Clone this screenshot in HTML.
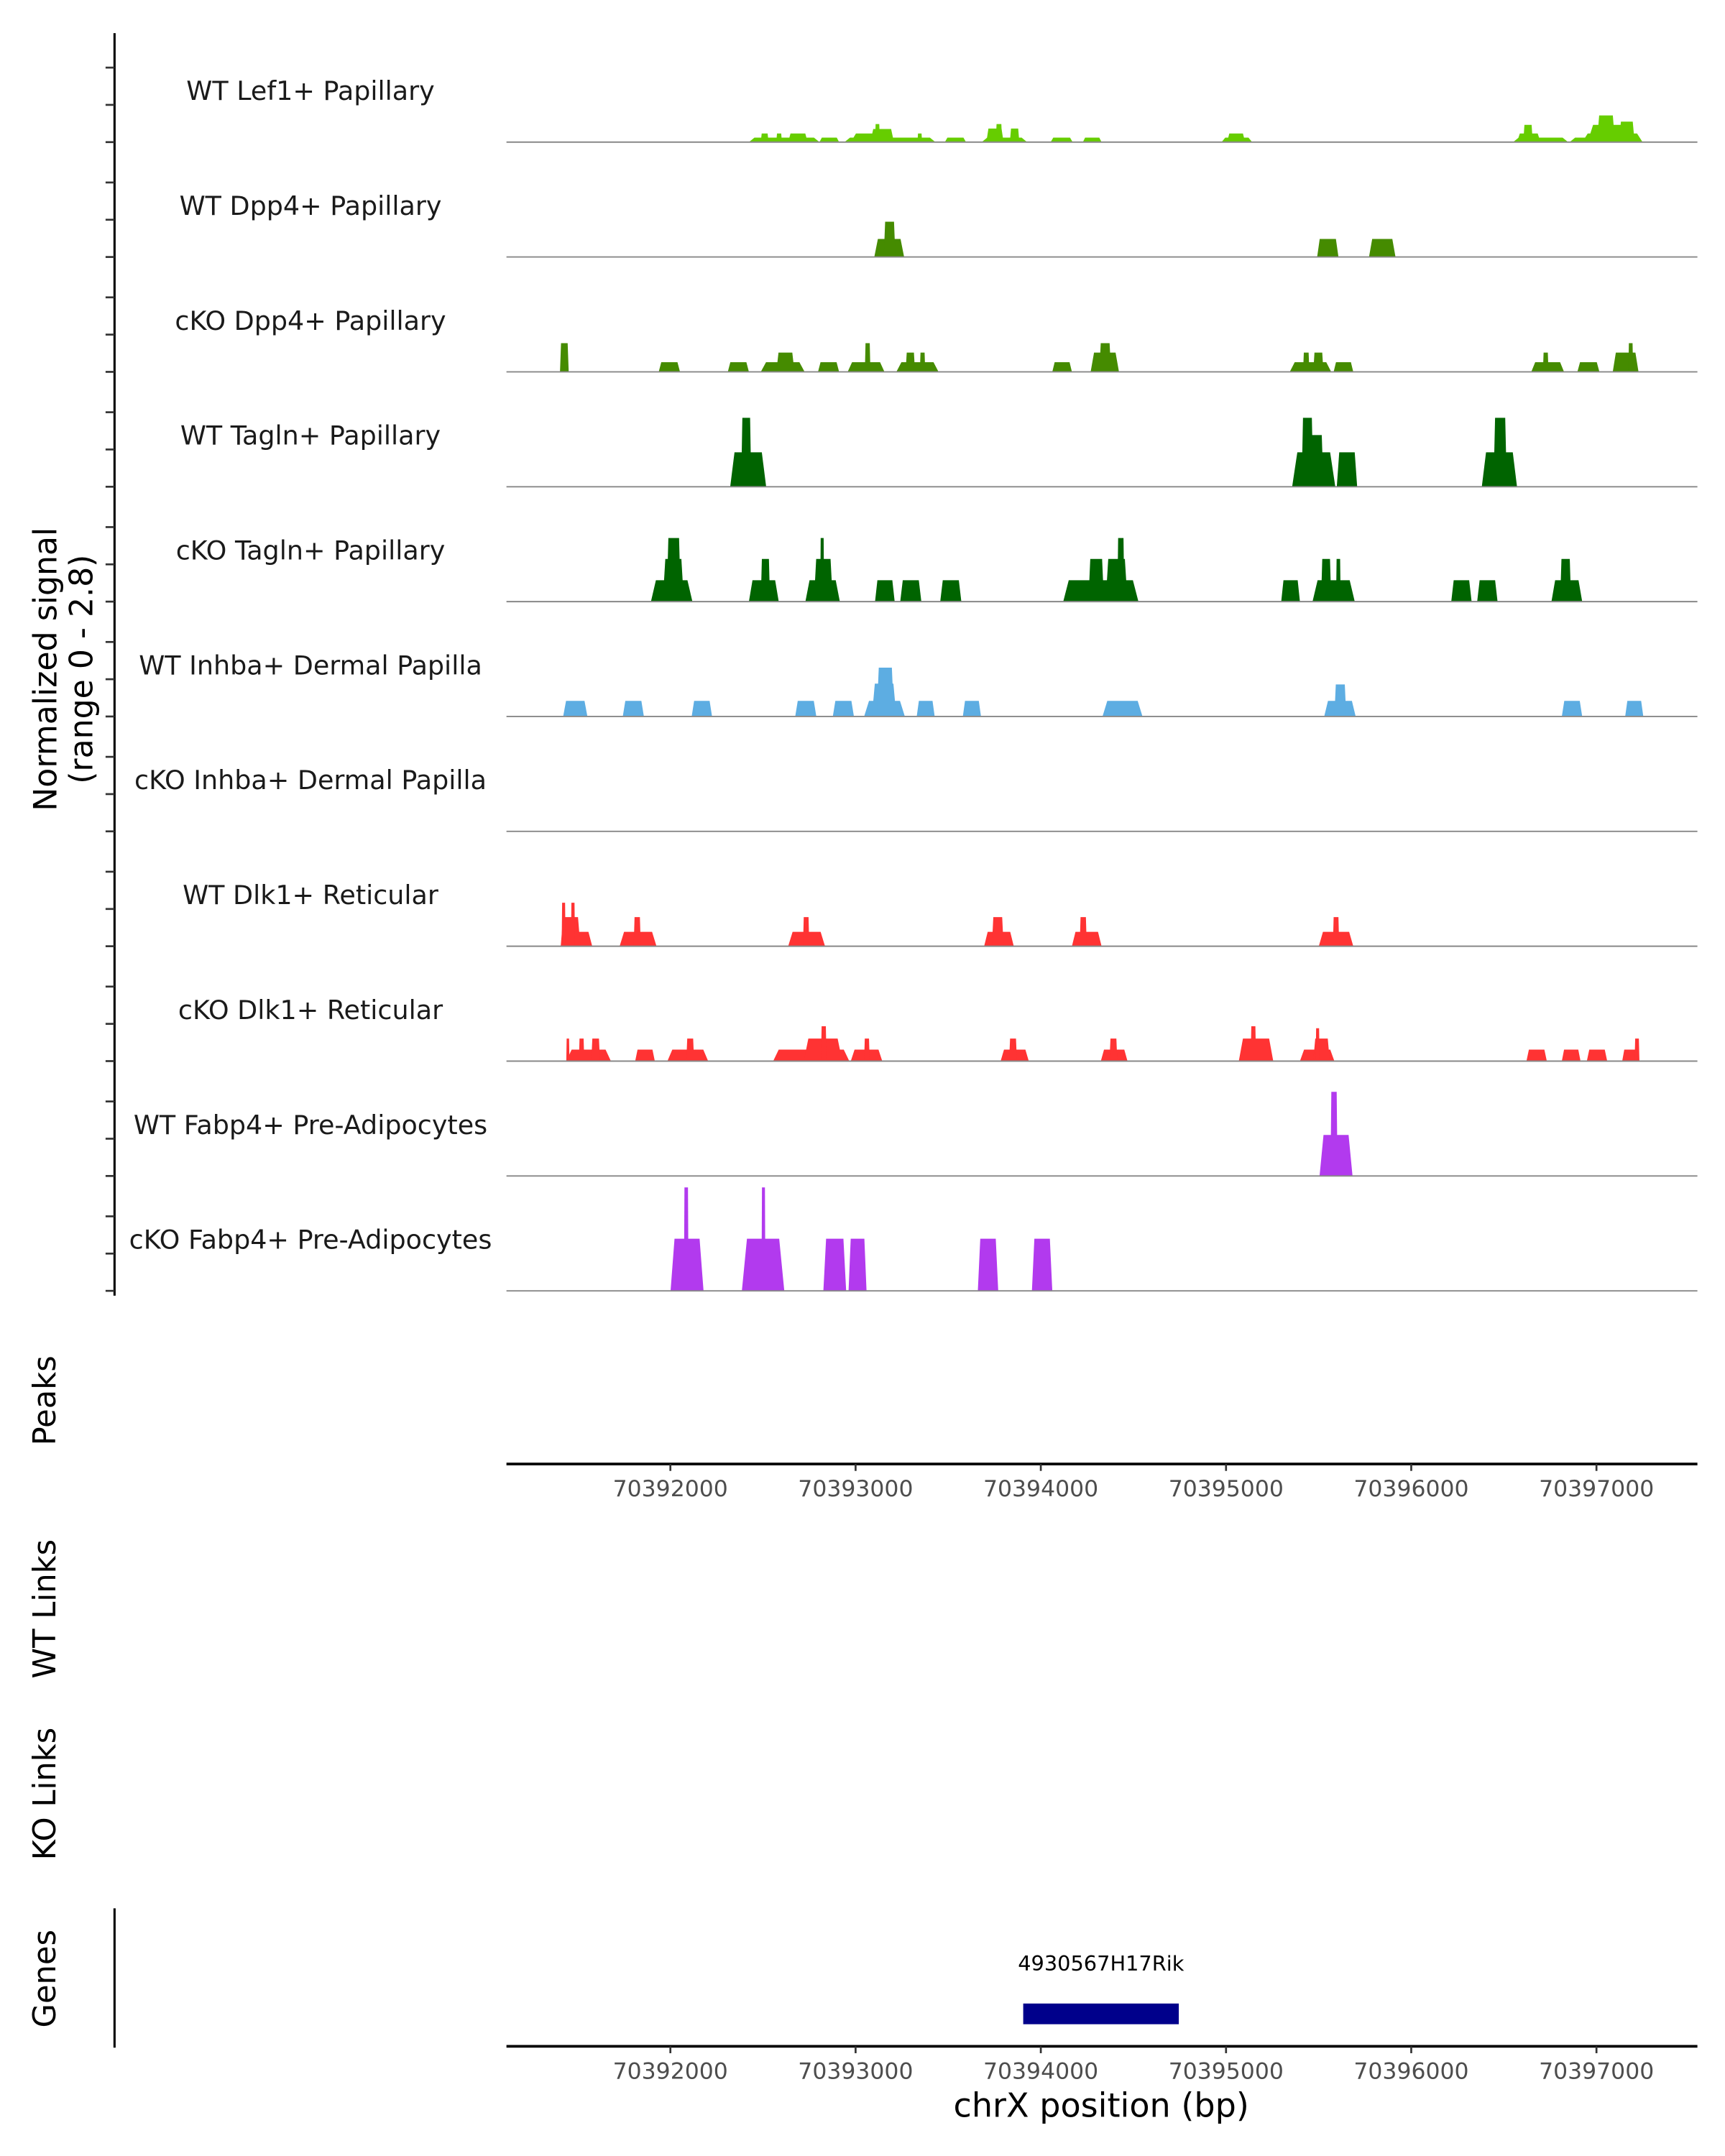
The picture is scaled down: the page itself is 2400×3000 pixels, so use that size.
<!DOCTYPE html>
<html><head><meta charset="utf-8"><style>
html,body{margin:0;padding:0;background:#fff;}
svg{display:block;font-family:"DejaVu Sans","Liberation Sans",sans-serif;}
</style></head><body>
<svg id="chart" xmlns="http://www.w3.org/2000/svg" width="2400" height="3000" viewBox="0 0 1250 1562.5">
<rect x="0" y="0" width="1250" height="1562.5" fill="#fff"/>
<g id="tracks"></g>
<line x1="83" y1="24" x2="83" y2="939" stroke="#000" stroke-width="1.6"/>
<g id="yticks"></g>
<text transform="translate(41,485) rotate(-90)" text-anchor="middle" font-size="23" fill="#000"><tspan x="0" dy="0">Normalized signal</tspan><tspan x="0" dy="26">(range 0 - 2.8)</tspan></text>
<text transform="translate(40,1015) rotate(-90)" text-anchor="middle" font-size="22.5" fill="#000">Peaks</text>
<text transform="translate(40,1166) rotate(-90)" text-anchor="middle" font-size="22.5" fill="#000">WT Links</text>
<text transform="translate(40,1300) rotate(-90)" text-anchor="middle" font-size="22.5" fill="#000">KO Links</text>
<text transform="translate(40,1434) rotate(-90)" text-anchor="middle" font-size="22.5" fill="#000">Genes</text>
<line x1="83" y1="1383" x2="83" y2="1484" stroke="#000" stroke-width="1.6"/>
<line x1="367" y1="1061" x2="1230" y2="1061" stroke="#000" stroke-width="2"/>
<line x1="367" y1="1483" x2="1230" y2="1483" stroke="#000" stroke-width="2"/>
<g id="xaxes"></g>
<g id="genes"></g>
<text x="798" y="1534" text-anchor="middle" font-size="24" fill="#000">chrX position (bp)</text>
</svg>
<script>
const NS="http://www.w3.org/2000/svg";
const trackNames=["WT Lef1+ Papillary","WT Dpp4+ Papillary","cKO Dpp4+ Papillary","WT Tagln+ Papillary","cKO Tagln+ Papillary","WT Inhba+ Dermal Papilla","cKO Inhba+ Dermal Papilla","WT Dlk1+ Reticular","cKO Dlk1+ Reticular","WT Fabp4+ Pre-Adipocytes","cKO Fabp4+ Pre-Adipocytes"];
const trackColors=["#66cd00","#458b00","#458b00","#006400","#006400","#5dade2","#5dade2","#ff3333","#ff3333","#b23aee","#b23aee"];
const xTicks=[70392000,70393000,70394000,70395000,70396000,70397000];
const xDomain=[70391112,70397545];
const yMax=2.8;
const t1=[[70392424,70392805,0.11],[70392488,70392530,0.21],[70392572,70392602,0.21],[70392636,70392741,0.21],[70392805,70392911,0.11],[70392940,70393431,0.11],[70392974,70393207,0.21],[70393080,70393207,0.32],[70393105,70393131,0.44],[70393334,70393359,0.21],[70393482,70393596,0.11],[70393681,70393926,0.11],[70393706,70393799,0.33],[70393757,70393791,0.44],[70393833,70393884,0.33],[70394053,70394172,0.11],[70394227,70394328,0.11],[70394976,70395141,0.11],[70395006,70395103,0.21],[70396550,70396847,0.11],[70396571,70396698,0.21],[70396605,70396656,0.42],[70396855,70397249,0.11],[70396923,70397249,0.21],[70396952,70397206,0.42],[70397003,70397100,0.65],[70397122,70397206,0.5]];
const t2=[[70393101,70393262,0.44],[70393152,70393215,0.86],[70395492,70395607,0.44],[70395772,70395915,0.44]];
const t3=[[70391404,70391451,0.7],[70391937,70392052,0.235],[70392310,70392424,0.235],[70392488,70392725,0.235],[70392572,70392670,0.47],[70392797,70392911,0.235],[70392957,70393156,0.235],[70393050,70393080,0.7],[70393220,70393448,0.235],[70393270,70393321,0.47],[70393347,70393376,0.47],[70394062,70394168,0.235],[70394269,70394422,0.47],[70394316,70394379,0.7],[70395344,70395568,0.235],[70395416,70395450,0.47],[70395471,70395526,0.47],[70395581,70395687,0.235],[70396648,70396825,0.235],[70396711,70396741,0.47],[70396897,70397016,0.235],[70397088,70397227,0.47],[70397172,70397198,0.7]];
const t4=[[70392323,70392517,0.84],[70392382,70392437,1.68],[70395357,70395590,0.84],[70395408,70395471,1.68],[70395450,70395526,1.26],[70395598,70395708,0.84],[70396381,70396571,0.84],[70396444,70396516,1.68]];
const t5=[[70391895,70392119,0.52],[70391959,70392073,1.04],[70391980,70392056,1.55],[70392424,70392585,0.52],[70392488,70392538,1.04],[70392729,70392915,0.52],[70392775,70392877,1.04],[70392809,70392830,1.55],[70393105,70393211,0.52],[70393241,70393355,0.52],[70393457,70393571,0.52],[70394121,70394527,0.52],[70394257,70394341,1.04],[70394350,70394468,1.04],[70394413,70394451,1.55],[70395298,70395399,0.52],[70395467,70395695,0.52],[70395513,70395568,1.04],[70395594,70395619,1.04],[70396216,70396326,0.52],[70396356,70396466,0.52],[70396757,70396923,0.52],[70396804,70396863,1.04]];
const t6=[[70391421,70391552,0.38],[70391743,70391857,0.38],[70392115,70392225,0.38],[70392674,70392788,0.38],[70392877,70392991,0.38],[70393046,70393266,0.38],[70393088,70393220,0.8],[70393114,70393207,1.19],[70393330,70393427,0.38],[70393579,70393677,0.38],[70394333,70394549,0.38],[70395530,70395700,0.38],[70395585,70395649,0.78],[70396813,70396923,0.38],[70397155,70397253,0.38]];
const t7=[];
const t8=[[70391408,70391578,0.35],[70391408,70391514,0.71],[70391413,70391434,1.06],[70391463,70391485,1.06],[70391726,70391925,0.35],[70391802,70391840,0.71],[70392636,70392835,0.35],[70392716,70392750,0.71],[70393694,70393854,0.35],[70393736,70393799,0.71],[70394168,70394328,0.35],[70394210,70394248,0.71],[70395501,70395687,0.35],[70395577,70395611,0.71]];
const t9=[[70391438,70391679,0.28],[70391438,70391455,0.55],[70391506,70391535,0.55],[70391573,70391620,0.55],[70391810,70391916,0.28],[70391984,70392204,0.28],[70392086,70392128,0.55],[70392555,70392966,0.28],[70392720,70392928,0.55],[70392813,70392843,0.85],[70392974,70393144,0.28],[70393046,70393076,0.55],[70393783,70393935,0.28],[70393829,70393871,0.55],[70394324,70394468,0.28],[70394371,70394413,0.55],[70395069,70395255,0.55],[70395133,70395162,0.85],[70395399,70395585,0.28],[70395471,70395560,0.55],[70395484,70395505,0.8],[70396622,70396732,0.28],[70396813,70396914,0.28],[70396948,70397058,0.28],[70397139,70397232,0.28],[70397206,70397232,0.55]];
const t10=[[70395505,70395683,1.0],[70395564,70395602,2.05]];
const t11=[[70392001,70392179,1.27],[70392073,70392098,2.52],[70392386,70392615,1.27],[70392492,70392513,2.52],[70392826,70392949,1.27],[70392962,70393059,1.27],[70393660,70393770,1.27],[70393952,70394062,1.27]];
const trackData=[t1,t2,t3,t4,t5,t6,t7,t8,t9,t10,t11];
const geneName="4930567H17Rik";
const geneStart=70393905;
const geneEnd=70394745;

const X0=367,X1=1230,B0=103,TH=83.25;
function xs(bp){return 366.6+(bp-xDomain[0])/(xDomain[1]-xDomain[0])*(X1-366.6);}
function ys(v,i){return B0+i*TH-v/yMax*TH;}
function mk(tag,attrs,parent){const e=document.createElementNS(NS,tag);for(const k in attrs)e.setAttribute(k,attrs[k]);parent.appendChild(e);return e;}
const gT=document.getElementById('tracks');
trackNames.forEach((nm,i)=>{
  const g=mk('g',{},gT);
  
  
  const base=B0+i*TH;
  trackData[i].forEach(p=>{
    const a=xs(p[0]),b=xs(p[1]),w=b-a,s=Math.min(w*0.12,4),top=ys(p[2],i);
    const poly=mk('polygon',{points:`${a},${base} ${a+s},${top} ${b-s},${top} ${b},${base}`,fill:trackColors[i]},g);
    
    
  });
  const ln=mk('line',{x1:X0,x2:X1,y1:base,y2:base,stroke:'#888',"stroke-width":1},g);
  
  
  const tx=mk('text',{x:225,y:base-30.5,"text-anchor":"middle","font-size":"19",fill:"#1a1a1a"},g);
  tx.textContent=nm;
  
  
});
const gY=document.getElementById('yticks');
for(let i=0;i<11;i++){
  for(let k=0;k<3;k++){
    const y=B0+i*TH-k*27;
    const t=mk('line',{x1:76.5,x2:83,y1:y,y2:y,stroke:'#333',"stroke-width":1.4},gY);
    
    
  }
}
const gX=document.getElementById('xaxes');
[1061,1483].forEach(ay=>{
  xTicks.forEach(v=>{
    const x=xs(v);
    const t=mk('line',{x1:x,x2:x,y1:ay,y2:ay+5,stroke:'#333',"stroke-width":1.4},gX);
    
    
    const l=mk('text',{x:x,y:ay+23.5,"text-anchor":"middle","font-size":"16.4",fill:"#4d4d4d"},gX);
    l.textContent=v;
    
    
  });
});
const gG=document.getElementById('genes');
const gx1=xs(geneStart),gx2=xs(geneEnd);
const gb=mk('rect',{x:gx1,y:1452,width:gx2-gx1,height:15,fill:'#00008b'},gG);


const gl=mk('text',{x:(gx1+gx2)/2,y:1428,"text-anchor":"middle","font-size":"15",fill:"#000"},gG);
gl.textContent=geneName;


</script>
</body></html>
